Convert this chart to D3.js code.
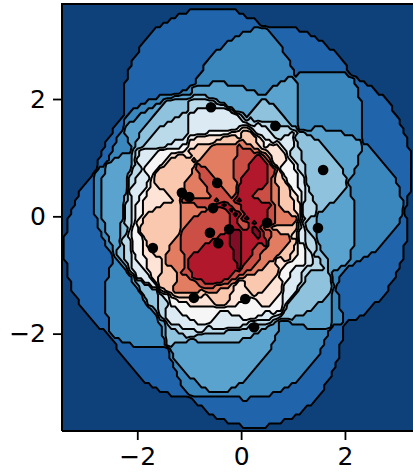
<!DOCTYPE html>
<html>
<head>
<meta charset="utf-8">
<script src="https://cdnjs.cloudflare.com/ajax/libs/d3/7.8.5/d3.min.js"></script>
<style>
html, body { margin: 0; padding: 0; background: #fff; overflow: hidden; }
svg { display: block; }
</style>
</head>
<body>
<div id="chart"></div>
<script>
// sample points
var pointX = [-0.46, -1.14, -1.00, -0.54, -0.60, -0.23, -0.44, 0.50, -1.70, -0.91, 0.08, 0.25, 1.48, -0.58, 0.66, 1.58];
var pointY = [0.57, 0.40, 0.33, 0.14, -0.28, -0.22, -0.46, -0.11, -0.54, -1.39, -1.41, -1.89, -0.20, 1.86, 1.54, 0.79];
var kernelRadius = [1.7];
var levelColors = ['#0e4079', '#2065ab', '#3a87bd', '#5ba3cf', '#8fc2dd', '#bad9e9', '#dcebf3', '#f6f6f7',
    '#fde4d6', '#fac8af', '#e37d62', '#cb4f45', '#b2182b', '#7f0d26'];
var xTicks = [-2, 0, 2];
var yTicks = [-2, 0, 2];

//Width and height
var w = 413;
var h = 473;

var x = d3.scaleLinear().domain([-3.45, 3.33]).range([62, 414]);
var y = d3.scaleLinear().domain([-3.66, 3.62]).range([431, 4]);

var svg = d3.select('#chart')
    .append('svg')
    .attr('width', w)
    .attr('height', h);

svg.append('clipPath')
    .attr('id', 'plot-area')
    .append('rect')
    .attr('x', 62)
    .attr('y', 4)
    .attr('width', 352)
    .attr('height', 427);

// tophat kernel: how many discs cover each grid node
var nx = 100;
var ny = 100;
var gridX = d3.scaleLinear().domain([0, nx - 1]).range([-3.6, 3.6]);
var gridY = d3.scaleLinear().domain([0, ny - 1]).range([-3.8, 3.8]);
var counts = [];
for (var j = 0; j < ny; j++) {
    for (var i = 0; i < nx; i++) {
        var gx = gridX(i), gy = gridY(j), n = 0;
        pointX.forEach(function(px, k) {
            var dx = gx - px, dy = gy - pointY[k];
            if (dx * dx + dy * dy <= kernelRadius[0] * kernelRadius[0]) n++;
        });
        counts.push(n);
    }
}

var thresholds = d3.range(1, levelColors.length).map(function(d) { return d - 0.5; });
var contours = d3.contours().size([nx, ny]).thresholds(thresholds)(counts);

// contour coordinates are grid cells, node i sits at i + 0.5
var path = d3.geoPath().projection(d3.geoTransform({
    point: function(cx, cy) {
        this.stream.point(x(gridX(cx - 0.5)), y(gridY(cy - 0.5)));
    }
}));

var plot = svg.append('g').attr('clip-path', 'url(#plot-area)');

plot.append('rect')
    .attr('x', 62)
    .attr('y', 4)
    .attr('width', 352)
    .attr('height', 427)
    .attr('fill', levelColors[0]);

plot.selectAll('path')
    .data(contours)
    .enter()
    .append('path')
    .attr('d', path)
    .attr('fill', function(d, i) { return levelColors[i + 1]; })
    .attr('stroke', '#000')
    .attr('stroke-width', 2)
    .attr('stroke-linejoin', 'round');

plot.selectAll('circle')
    .data(pointX)
    .enter()
    .append('circle')
    .attr('cx', function(d) { return x(d); })
    .attr('cy', function(d, i) { return y(pointY[i]); })
    .attr('r', 5.3)
    .attr('fill', '#000');

// spines
svg.append('path')
    .attr('d', 'M62,431V4H414M62,431H414')
    .attr('fill', 'none')
    .attr('stroke', '#000')
    .attr('stroke-width', 2);

function tickText(d) {
    return d < 0 ? '\u2212' + Math.abs(d) : String(d);
}

var xAxis = svg.append('g')
    .attr('transform', 'translate(0,431)')
    .call(d3.axisBottom(x).tickValues(xTicks).tickFormat(tickText).tickSize(9).tickPadding(7));
var yAxis = svg.append('g')
    .attr('transform', 'translate(62,0)')
    .call(d3.axisLeft(y).tickValues(yTicks).tickFormat(tickText).tickSize(9).tickPadding(7));

[xAxis, yAxis].forEach(function(a) {
    a.select('.domain').remove();
    a.selectAll('line').attr('stroke', '#000').attr('stroke-width', 1.8);
    a.selectAll('text')
        .attr('fill', '#000')
        .style('font-family', '"DejaVu Sans"')
        .style('font-size', '25px');
});
</script>
</body>
</html>
